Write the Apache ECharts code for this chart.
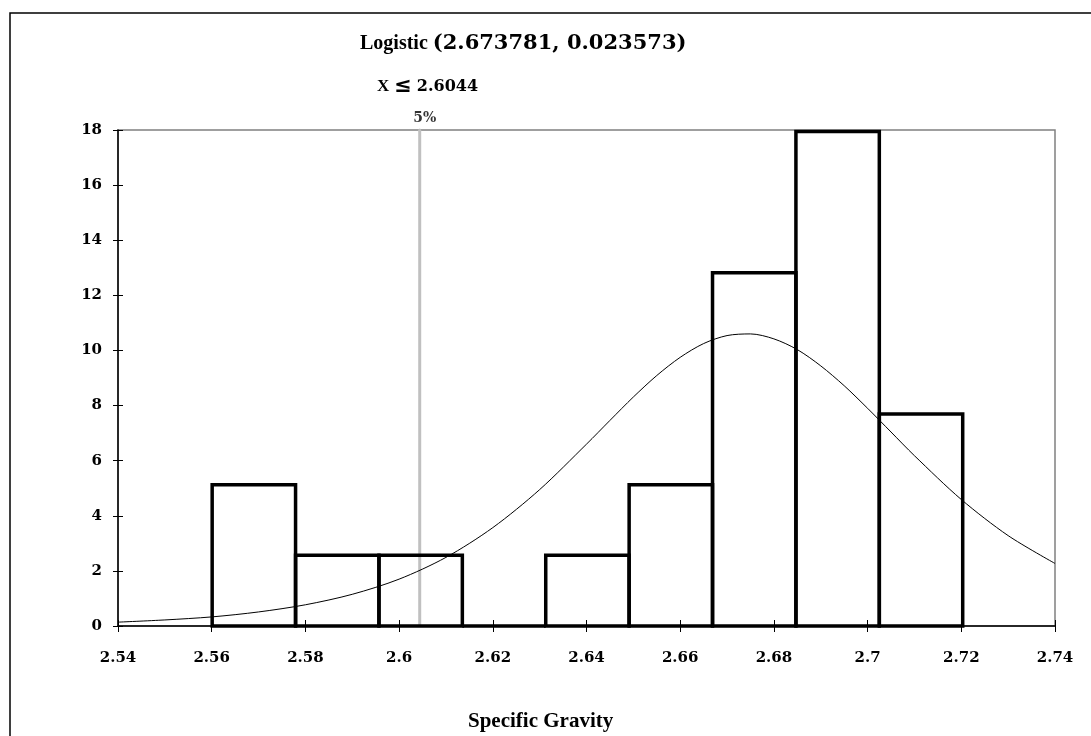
<!DOCTYPE html>
<html>
<head>
<meta charset="utf-8">
<script src="https://cdn.jsdelivr.net/npm/echarts@6/dist/echarts.min.js"></script>
<style>html,body{margin:0;padding:0;background:#fff}#c{width:1091px;height:736px}</style>
</head>
<body>
<div id="c"></div>
<script>
// histogram bins (left edge, right edge) and heights
var binLeft  = [2.5601, 2.5779, 2.5957, 2.6135, 2.6313, 2.6491, 2.6669, 2.6847, 2.7025];
var binRight = [2.5779, 2.5957, 2.6135, 2.6313, 2.6491, 2.6669, 2.6847, 2.7025, 2.7203];
var binHeights = [5.13, 2.565, 2.565, 0, 2.565, 5.13, 12.82, 17.95, 7.69];
// fitted curve
var curveX = [2.54,2.55,2.56,2.57,2.58,2.59,2.60,2.61,2.62,2.63,2.64,2.645,2.65,2.655,2.66,2.665,2.67,2.675,2.68,2.685,2.69,2.695,2.70,2.705,2.71,2.72,2.73,2.74];
var curveY = [0.14,0.22,0.33,0.51,0.77,1.15,1.70,2.49,3.57,4.95,6.60,7.46,8.31,9.09,9.75,10.25,10.54,10.60,10.42,10.03,9.44,8.72,7.90,7.04,6.18,4.59,3.28,2.27];
var cutoff = 2.6044;
var cutoffLabel = '5%';
var titleName = 'Logistic';
var titleParams = '(2.673781, 0.023573)';
var subTitle = '2.6044';
var xName = 'Specific Gravity';
var xMin = 2.54, xMax = 2.74, xStep = 0.02;
var yMin = 0, yMax = 18, yStep = 2;

var histData = binLeft.map(function (l, i) { return [l, binRight[i], binHeights[i]]; });
var curveData = curveX.map(function (x, i) { return [x, curveY[i]]; });
var cutoffData = [[cutoff, yMin], [cutoff, yMax]];

var numFont = '"DejaVu Serif"';
var chart = echarts.init(document.getElementById('c'));
var axisLbl = {fontFamily: numFont, fontWeight: 'bold', fontSize: 15, color: '#000'};

chart.setOption({
  backgroundColor: '#fff',
  animation: false,
  title: [{
    text: '{a|' + titleName + '} {b|' + titleParams + '}',
    left: 355, top: 28,
    textStyle: {
      rich: {
        a: {fontFamily: '"Liberation Serif"', fontWeight: 'bold', fontSize: 20, color: '#000'},
        b: {fontFamily: numFont, fontWeight: 'bold', fontSize: 21, color: '#000'}
      }
    }
  }, {
    text: '{a|X} {c|≤} {b|' + subTitle + '}',
    left: 372, top: 71,
    textStyle: {
      rich: {
        a: {fontFamily: '"Liberation Serif"', fontWeight: 'bold', fontSize: 17, color: '#000'},
        c: {fontFamily: '"DejaVu Sans"', fontWeight: 'bold', fontSize: 21, color: '#000'},
        b: {fontFamily: numFont, fontWeight: 'bold', fontSize: 16, color: '#000'}
      }
    }
  }],
  graphic: [{
    type: 'rect', silent: true, z: -1,
    shape: {x: 10, y: 13, width: 1200, height: 900},
    style: {fill: 'none', stroke: '#000', lineWidth: 1.5}
  }, {
    type: 'text', left: 540 - 72, top: 711,
    style: {text: xName, fontFamily: '"Liberation Serif"', fontWeight: 'bold', fontSize: 21, fill: '#000'}
  }],
  grid: {left: 118, top: 130, width: 937, height: 496, show: true, borderColor: '#808080', borderWidth: 1.5, backgroundColor: 'transparent'},
  xAxis: [{
    type: 'value', min: xMin, max: xMax, interval: xStep,
    axisLine: {show: true, lineStyle: {color: '#000', width: 1.5}},
    axisTick: {show: true, inside: false, length: 6, lineStyle: {color: '#000', width: 1}},
    axisLabel: Object.assign({margin: 25}, axisLbl),
    splitLine: {show: false}
  }, {
    type: 'value', min: xMin, max: xMax, interval: xStep, position: 'bottom',
    axisLine: {show: false},
    axisTick: {show: true, inside: true, length: 6, lineStyle: {color: '#000', width: 1}},
    axisLabel: {show: false},
    splitLine: {show: false}
  }],
  yAxis: [{
    type: 'value', min: yMin, max: yMax, interval: yStep,
    axisLine: {show: true, lineStyle: {color: '#000', width: 1.5}},
    axisTick: {show: true, inside: false, length: 5, lineStyle: {color: '#000', width: 1}},
    axisLabel: Object.assign({margin: 16}, axisLbl),
    splitLine: {show: false}
  }, {
    type: 'value', min: yMin, max: yMax, interval: yStep, position: 'left',
    axisLine: {show: false},
    axisTick: {show: true, inside: true, length: 5, lineStyle: {color: '#000', width: 1}},
    axisLabel: {show: false},
    splitLine: {show: false}
  }],
  series: [{
    type: 'line',
    xAxisIndex: 0, yAxisIndex: 0,
    data: cutoffData,
    showSymbol: false,
    symbol: 'none',
    z: 2,
    lineStyle: {color: '#c0c0c0', width: 3}
  }, {
    type: 'scatter',
    xAxisIndex: 0, yAxisIndex: 0,
    data: [[cutoff, yMax]],
    symbolSize: 3,
    z: 2,
    itemStyle: {color: '#c0c0c0'},
    label: {show: true, position: 'top', formatter: cutoffLabel, fontFamily: numFont, fontWeight: 'bold', fontSize: 14, color: '#000', distance: 3, offset: [5, 0]}
  }, {
    type: 'custom',
    xAxisIndex: 0, yAxisIndex: 0,
    data: histData,
    encode: {x: [0, 1], y: 2},
    z: 3,
    renderItem: function (params, api) {
      var p0 = api.coord([api.value(0), 0]);
      var p1 = api.coord([api.value(1), api.value(2)]);
      return {
        type: 'rect',
        shape: {x: p0[0], y: p1[1], width: p1[0] - p0[0], height: p0[1] - p1[1]},
        style: {fill: 'none', stroke: '#000', lineWidth: 3.5}
      };
    }
  }, {
    type: 'line',
    xAxisIndex: 0, yAxisIndex: 0,
    data: curveData,
    showSymbol: false,
    smooth: 0.3,
    z: 4,
    lineStyle: {color: '#000', width: 1}
  }]
});
</script>
</body>
</html>
